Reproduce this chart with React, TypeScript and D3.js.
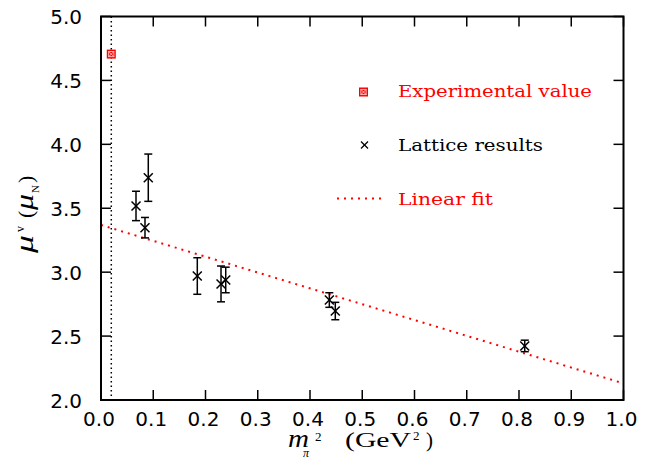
import React from "react";
import * as d3 from "d3";

const latticeX = [0.067, 0.0842, 0.0905, 0.1843, 0.2297, 0.2387, 0.437, 0.4484, 0.811];
const latticeY = [3.518, 3.348, 3.739, 2.97, 2.908, 2.939, 2.782, 2.696, 2.423];
const latticeErr = [0.115, 0.08, 0.185, 0.143, 0.14, 0.1, 0.057, 0.068, 0.045];
const expX = [0.0197];
const expY = [4.706];
const physLineX = 0.0197;
const fitIntercept = 3.369;
const fitSlope = -1.239;
const xTicks = [0, 0.1, 0.2, 0.3, 0.4, 0.5, 0.6, 0.7, 0.8, 0.9, 1.0];
const yTicks = [2.0, 2.5, 3.0, 3.5, 4.0, 4.5, 5.0];

const L = 101, R = 623.5, T = 16.5, B = 400;

export default function App() {
  const x = d3.scaleLinear().domain([0, 1]).range([L, R]);
  const y = d3.scaleLinear().domain([2, 5]).range([B, T]);
  const fitLine = d3.line<number>().x((d) => x(d)).y((d) => y(fitIntercept + fitSlope * d));
  const cross = (cx: number, cy: number, s: number, key: string, color = "#000", sw = 1.5) => (
    <g key={key} stroke={color} strokeWidth={sw}>
      <line x1={cx - s} y1={cy - s} x2={cx + s} y2={cy + s} />
      <line x1={cx - s} y1={cy + s} x2={cx + s} y2={cy - s} />
    </g>
  );
  const expMarker = (cx: number, cy: number, key: string) => (
    <g key={key}>
      <rect x={cx - 4.5} y={cy - 4.5} width={9} height={9} fill="#ff0000" />
      <g stroke="#ffc8c8" strokeWidth={0.9}>
        <rect x={cx - 2.6} y={cy - 2.6} width={5.2} height={5.2} fill="none" />
        <line x1={cx - 2.6} y1={cy - 2.6} x2={cx + 2.6} y2={cy + 2.6} />
        <line x1={cx - 2.6} y1={cy + 2.6} x2={cx + 2.6} y2={cy - 2.6} />
      </g>
    </g>
  );
  const tickFont = "DejaVu Sans, sans-serif";
  const serif = "Liberation Serif, serif";
  return (
    <svg width={660} height={461} style={{ position: "absolute", left: 0, top: 0, background: "#fff" }}>
      <rect width={660} height={461} fill="#fff" />
      {/* physical pion mass line */}
      <line x1={x(physLineX)} x2={x(physLineX)} y1={T} y2={B} stroke="#000" strokeWidth={1.5} strokeDasharray="1.5 3" />
      {/* linear fit */}
      <path d={fitLine([0, 1]) || ""} fill="none" stroke="#ff0000" strokeWidth={2} strokeDasharray="2 5" />
      {/* lattice results */}
      {latticeX.map((xv, i) => {
        const cx = x(xv);
        const y1 = y(latticeY[i] + latticeErr[i]);
        const y2 = y(latticeY[i] - latticeErr[i]);
        return (
          <g key={"p" + i}>
            <g stroke="#000" strokeWidth={1.5}>
              <line x1={cx} x2={cx} y1={y1} y2={y2} />
              <line x1={cx - 4} x2={cx + 4} y1={y1} y2={y1} />
              <line x1={cx - 4} x2={cx + 4} y1={y2} y2={y2} />
            </g>
            {cross(cx, y(latticeY[i]), 4.5, "c" + i)}
          </g>
        );
      })}
      {expX.map((xv, i) => expMarker(x(xv), y(expY[i]), "e" + i))}
      {/* frame */}
      <rect x={L} y={T} width={R - L} height={B - T} fill="none" stroke="#000" strokeWidth={2} />
      {/* ticks */}
      {xTicks.map((t, i) => (
        <g key={"xt" + i} stroke="#000" strokeWidth={1.5}>
          <line x1={x(t)} x2={x(t)} y1={B} y2={B - 10} />
          <line x1={x(t)} x2={x(t)} y1={T} y2={T + 10} />
        </g>
      ))}
      {yTicks.map((t, i) => (
        <g key={"yt" + i} stroke="#000" strokeWidth={1.5}>
          <line x1={L} x2={L + 10} y1={y(t)} y2={y(t)} />
          <line x1={R} x2={R - 10} y1={y(t)} y2={y(t)} />
        </g>
      ))}
      {xTicks.map((t, i) => (
        <text key={"xl" + i} x={x(t) - 2} y={426} textAnchor="middle" fontFamily={tickFont} fontSize={20} fill="#000">
          {d3.format(".1f")(t)}
        </text>
      ))}
      {yTicks.map((t, i) => (
        <text key={"yl" + i} x={82} y={y(t) + 7.5} textAnchor="end" fontFamily={tickFont} fontSize={20} fill="#000">
          {d3.format(".1f")(t)}
        </text>
      ))}
      {/* x title */}
      <g fontFamily={serif} fill="#000">
        <text x={288} y={447} fontSize={26} fontStyle="italic" textLength={21} lengthAdjust="spacingAndGlyphs">m</text>
        <text x={303} y={457} fontSize={12} fontStyle="italic">π</text>
        <text x={315} y={441} fontSize={13}>2</text>
        <text x={345} y={447} fontSize={21} textLength={66} lengthAdjust="spacingAndGlyphs">(GeV</text>
        <text x={413} y={440} fontSize={13}>2</text>
        <text x={426} y={447} fontSize={21}>)</text>
      </g>
      {/* y title */}
      <g transform="translate(33, 253) rotate(-90)" fontFamily={serif} fill="#000">
        <text x={0} y={0} fontSize={26} fontStyle="italic" textLength={18} lengthAdjust="spacingAndGlyphs">μ</text>
        <text x={21} y={-9} fontSize={12}>v</text>
        <text x={35} y={0} fontSize={22}>(</text>
        <text x={43} y={0} fontSize={26} fontStyle="italic" textLength={16} lengthAdjust="spacingAndGlyphs">μ</text>
        <text x={60} y={6} fontSize={11}>N</text>
        <text x={70} y={0} fontSize={22}>)</text>
      </g>
      {/* legend */}
      {expMarker(363.5, 92, "legexp")}
      <text x={398} y={97} fontFamily="DejaVu Serif, serif" fontSize={16} fill="#ff0000" textLength={194} lengthAdjust="spacingAndGlyphs">Experimental value</text>
      {cross(364.5, 145, 3.5, "legx", "#000", 1.3)}
      <text x={398} y={151} fontFamily="DejaVu Serif, serif" fontSize={16} fill="#000" textLength={145} lengthAdjust="spacingAndGlyphs">Lattice results</text>
      <line x1={337} x2={384} y1={198.5} y2={198.5} stroke="#ff0000" strokeWidth={2} strokeDasharray="2 5" />
      <text x={398} y={205} fontFamily="DejaVu Serif, serif" fontSize={16} fill="#ff0000" textLength={95} lengthAdjust="spacingAndGlyphs">Linear fit</text>
    </svg>
  );
}
